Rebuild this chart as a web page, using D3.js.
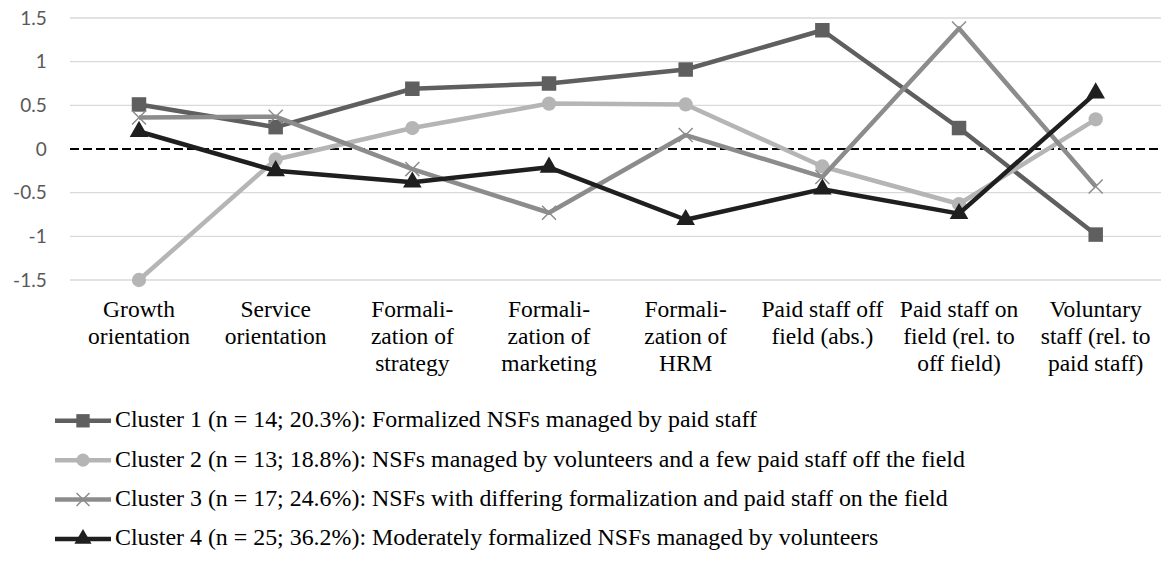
<!DOCTYPE html>
<html>
<head>
<meta charset="utf-8">
<script src="https://cdn.jsdelivr.net/npm/d3@7"></script>
<style>
  html, body { margin: 0; padding: 0; background: #ffffff; }
  svg { display: block; }
</style>
</head>
<body>
<svg id="chart" width="1161" height="572"></svg>
<script>
// ---- data ----
const categories = [
  "Growth\norientation",
  "Service\norientation",
  "Formali-\nzation of\nstrategy",
  "Formali-\nzation of\nmarketing",
  "Formali-\nzation of\nHRM",
  "Paid staff off\nfield (abs.)",
  "Paid staff on\nfield (rel. to\noff field)",
  "Voluntary\nstaff (rel. to\npaid staff)"
];
const cluster1 = [0.51, 0.25, 0.69, 0.75, 0.91, 1.36, 0.24, -0.98];
const cluster2 = [-1.50, -0.12, 0.24, 0.52, 0.51, -0.20, -0.63, 0.34];
const cluster3 = [0.36, 0.37, -0.23, -0.73, 0.16, -0.32, 1.38, -0.43];
const cluster4 = [0.20, -0.25, -0.38, -0.21, -0.81, -0.46, -0.74, 0.64];
const seriesNames = [
  "Cluster 1 (n = 14; 20.3%): Formalized NSFs managed by paid staff",
  "Cluster 2 (n = 13; 18.8%): NSFs managed by volunteers and a few paid staff off the field",
  "Cluster 3 (n = 17; 24.6%): NSFs with differing formalization and paid staff on the field",
  "Cluster 4 (n = 25; 36.2%): Moderately formalized NSFs managed by volunteers"
];
const yTicks = [1.5, 1, 0.5, 0, -0.5, -1, -1.5];

// ---- styles ----
const SERIF = '"Liberation Serif", "Times New Roman", Tinos, serif';
const SANS = '"Lato", "Open Sans", sans-serif';
const colors = ["#5f5f5f", "#b5b5b5", "#8c8c8c", "#1f1f1f"];
const symbols = [d3.symbolSquare, d3.symbolCircle, d3.symbolTimes, d3.symbolTriangle];
const symSizes = [210, 160, 130, 150];

const svg = d3.select("#chart");
const plotLeft = 70, plotRight = 1161;

const x = d3.scalePoint().domain(categories).range([139, 1095.7]);
const y = d3.scaleLinear().domain([-1.5, 1.5]).range([280, 18]);

// gridlines
svg.append("g").selectAll("line").data(yTicks.filter(d => d !== 0)).join("line")
  .attr("x1", plotLeft).attr("x2", plotRight)
  .attr("y1", d => y(d)).attr("y2", d => y(d))
  .attr("stroke", "#d9d9d9").attr("stroke-width", 1.3);

// zero dashed line
svg.append("line")
  .attr("x1", plotLeft).attr("x2", plotRight)
  .attr("y1", y(0)).attr("y2", y(0))
  .attr("stroke", "#000").attr("stroke-width", 2)
  .attr("stroke-dasharray", "9,4");

// y axis labels
const yAxis = d3.axisLeft(y).tickValues(yTicks).tickSize(0).tickPadding(23.3)
  .tickFormat(d => String(d));
const gy = svg.append("g").attr("transform", `translate(${plotLeft},0)`).call(yAxis);
gy.select(".domain").remove();
gy.attr("font-family", null).attr("font-size", null);
gy.selectAll("text")
  .style("font-family", SANS)
  .style("font-size", "19px")
  .style("fill", "#595959");

// x labels
const xl = svg.append("g").selectAll("text").data(categories).join("text")
  .attr("x", d => x(d))
  .attr("y", 316.7)
  .attr("text-anchor", "middle")
  .style("font-family", SERIF)
  .style("font-size", "23.5px")
  .style("fill", "#000");
xl.each(function(d) {
  const lines = d.split("\n");
  d3.select(this).selectAll("tspan").data(lines).join("tspan")
    .attr("x", x(d))
    .attr("dy", (l, i) => i === 0 ? 0 : 27.3)
    .text(l => l);
});

// series
const allSeries = [cluster1, cluster2, cluster3, cluster4];
const line = d3.line().x((d, i) => x(categories[i])).y(d => y(d));

allSeries.forEach((vals, s) => {
  const g = svg.append("g");
  g.append("path").datum(vals)
    .attr("d", line)
    .attr("fill", "none")
    .attr("stroke", colors[s])
    .attr("stroke-width", 4.5)
    .attr("stroke-linejoin", "round");
  const sym = d3.symbol().type(symbols[s]).size(symSizes[s]);
  g.selectAll("path.m").data(vals).join("path")
    .attr("class", "m")
    .attr("transform", (d, i) => `translate(${x(categories[i])},${y(d)})`)
    .attr("d", sym)
    .attr("fill", s === 2 ? "none" : colors[s])
    .attr("stroke", s === 2 ? colors[s] : "none")
    .attr("stroke-width", s === 2 ? 1.5 : 0);
});

// legend
const legY = [427.3, 466.7, 506, 545.4];
const leg = svg.append("g");
seriesNames.forEach((name, s) => {
  const cy = legY[s] - 6.5;
  leg.append("line")
    .attr("x1", 55).attr("x2", 111)
    .attr("y1", cy).attr("y2", cy)
    .attr("stroke", colors[s]).attr("stroke-width", 4.5);
  leg.append("path")
    .attr("transform", `translate(83,${cy})`)
    .attr("d", d3.symbol().type(symbols[s]).size(symSizes[s] * 0.85))
    .attr("fill", s === 2 ? "none" : colors[s])
    .attr("stroke", s === 2 ? colors[s] : "none")
    .attr("stroke-width", s === 2 ? 1.5 : 0);
  leg.append("text")
    .attr("x", 115).attr("y", legY[s])
    .style("font-family", SERIF)
    .style("font-size", "23.9px")
    .style("fill", "#000")
    .text(name);
});
</script>
</body>
</html>
